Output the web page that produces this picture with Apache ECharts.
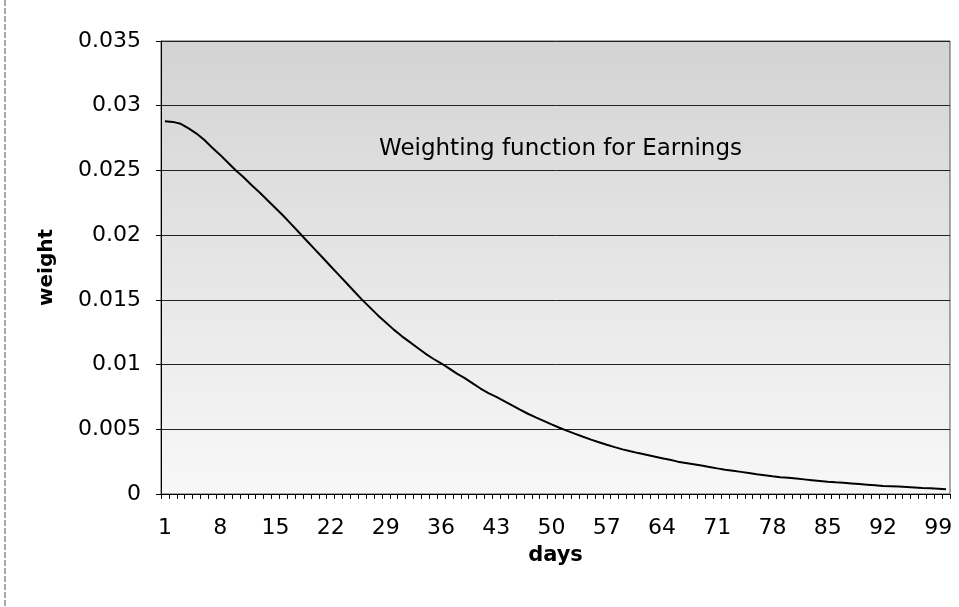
<!DOCTYPE html>
<html>
<head>
<meta charset="utf-8">
<script src="https://cdn.jsdelivr.net/npm/echarts@6/dist/echarts.min.js"></script>
<style>
html, body { margin: 0; padding: 0; background: #fff; }
#main { width: 959px; height: 607px; }
</style>
</head>
<body>
<div id="main"></div>
<script>
// 天数 1..100
var days = [];
for (var d = 1; d <= 100; d++) { days.push(String(d)); }

// 权重值
var weights = [
	0.02880, 0.02875, 0.02860, 0.02825, 0.02785, 0.02735, 0.02675, 0.02620, 0.02560, 0.02500,
	0.02445, 0.02385, 0.02330, 0.02270, 0.02210, 0.02150, 0.02085, 0.02020, 0.01955, 0.01890,
	0.01825, 0.01760, 0.01695, 0.01630, 0.01565, 0.01500, 0.01440, 0.01380, 0.01325, 0.01270,
	0.01220, 0.01175, 0.01130, 0.01085, 0.01045, 0.01010, 0.00970, 0.00930, 0.00895, 0.00855,
	0.00815, 0.00780, 0.00750, 0.00718, 0.00685, 0.00652, 0.00620, 0.00592, 0.00565, 0.00538,
	0.00512, 0.00488, 0.00465, 0.00442, 0.00420, 0.00400, 0.00380, 0.00362, 0.00345, 0.00330,
	0.00316, 0.00303, 0.00290, 0.00277, 0.00264, 0.00250, 0.00240, 0.00230, 0.00220, 0.00209,
	0.00198, 0.00188, 0.00180, 0.00171, 0.00162, 0.00153, 0.00145, 0.00137, 0.00130, 0.00125,
	0.00119, 0.00113, 0.00107, 0.00101, 0.00095, 0.00090, 0.00086, 0.00082, 0.00077, 0.00072,
	0.00067, 0.00062, 0.00060, 0.00057, 0.00054, 0.00051, 0.00047, 0.00044, 0.00040, 0.00036
];

var yTicks = ['0', '0.005', '0.01', '0.015', '0.02', '0.025', '0.03', '0.035'];

var font = 'DejaVu Sans';
var myChart = echarts.init(document.getElementById('main'));
var option = {
	animation: false,
	title: {
		text: 'Weighting function for Earnings',
		left: 374,
		top: 133,
		textStyle: { fontFamily: font, fontSize: 23, fontWeight: 'normal', color: '#000' }
	},
	graphic: [{
		type: 'line',
		shape: { x1: 5, y1: 0, x2: 5, y2: 607 },
		style: { stroke: '#555', lineWidth: 1, lineDash: [6, 2] }
	}],
	grid: {
		left: 161, right: 9, top: 41, bottom: 113,
		show: true,
		borderColor: '#555',
		borderWidth: 1,
		backgroundColor: {
			type: 'linear', x: 0, y: 0, x2: 0, y2: 1,
			colorStops: [{ offset: 0, color: '#d3d3d3' }, { offset: 1, color: '#f8f8f8' }]
		}
	},
	xAxis: {
		type: 'category',
		data: days,
		boundaryGap: true,
		name: 'days',
		nameLocation: 'middle',
		nameGap: 51,
		nameTextStyle: { fontFamily: font, fontSize: 21, fontWeight: 'bold', color: '#000' },
		axisLine: { lineStyle: { color: '#000', width: 1 } },
		axisTick: { show: true, interval: 0, length: 5, lineStyle: { color: '#000' } },
		axisLabel: { interval: 6, margin: 23, fontFamily: font, fontSize: 22, color: '#000' },
		splitLine: { show: false }
	},
	yAxis: {
		type: 'value',
		min: 0,
		max: 0.035,
		interval: 0.005,
		name: 'weight',
		nameLocation: 'middle',
		nameRotate: 90,
		nameGap: 104,
		nameTextStyle: { fontFamily: font, fontSize: 20, fontWeight: 'bold', color: '#000' },
		axisLine: { show: true, lineStyle: { color: '#000', width: 1 } },
		axisTick: { show: true, length: 5, lineStyle: { color: '#000' } },
		axisLabel: {
			margin: 20, fontFamily: font, fontSize: 22, color: '#000',
			formatter: function (v, i) { return yTicks[i]; }
		},
		splitLine: { show: true, lineStyle: { color: '#222', width: 1 } }
	},
	series: [{
		type: 'line',
		data: weights,
		showSymbol: false,
		lineStyle: { color: '#000', width: 2 }
	}]
};
myChart.setOption(option);
</script>
</body>
</html>
